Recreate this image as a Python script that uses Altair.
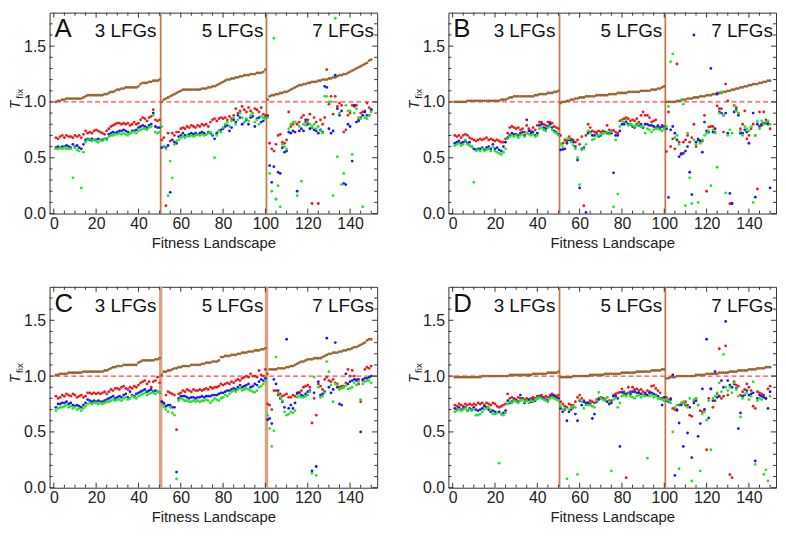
import altair as alt
import pandas as pd

X_LABELS = [0, 20, 40, 60, 80, 100, 120, 140]
X_MINOR = [v for v in range(0, 155, 5) if v % 20 != 0]
Y_LABELS = [0.0, 0.5, 1.0, 1.5]
Y_MINOR = [0.1, 0.2, 0.3, 0.4, 0.6, 0.7, 0.8, 0.9, 1.1, 1.2, 1.3, 1.4, 1.6, 1.7]
SEPARATORS = [50.5, 100.5]
GROUP_LABELS = ["3 LFGs", "5 LFGs", "7 LFGs"]
GROUP_LABEL_X = [48.5, 99.0, 151.3]
SERIES = ["brown", "red", "blue", "green"]
SERIES_COLORS = ["#996633", "#f01818", "#1c1ce6", "#22e622"]

A_brown = [
    1.00, 1.01, 1.01, 1.02, 1.02, 1.03, 1.03, 1.03, 1.03, 1.03,
    1.03, 1.03, 1.03, 1.04, 1.05, 1.06, 1.06, 1.06, 1.06, 1.06,
    1.06, 1.06, 1.06, 1.07, 1.07, 1.08, 1.09, 1.09, 1.10, 1.11,
    1.11, 1.12, 1.12, 1.13, 1.13, 1.13, 1.13, 1.13, 1.13, 1.14,
    1.16, 1.17, 1.17, 1.17, 1.18, 1.18, 1.19, 1.19, 1.19, 1.20,
    1.00, 1.02, 1.03, 1.04, 1.05, 1.06, 1.07, 1.08, 1.09, 1.10,
    1.11, 1.11, 1.11, 1.11, 1.11, 1.11, 1.11, 1.11, 1.11, 1.12,
    1.12, 1.12, 1.13, 1.13, 1.14, 1.14, 1.15, 1.16, 1.17, 1.18,
    1.19, 1.20, 1.20, 1.21, 1.21, 1.22, 1.22, 1.23, 1.23, 1.24,
    1.24, 1.24, 1.25, 1.25, 1.25, 1.26, 1.26, 1.26, 1.27, 1.29,
    1.02, 1.05, 1.06, 1.06, 1.07, 1.07, 1.08, 1.08, 1.09, 1.09,
    1.10, 1.11, 1.12, 1.13, 1.14, 1.15, 1.15, 1.16, 1.16, 1.17,
    1.17, 1.18, 1.18, 1.18, 1.19, 1.19, 1.20, 1.20, 1.20, 1.21,
    1.21, 1.22, 1.22, 1.23, 1.24, 1.24, 1.25, 1.25, 1.26, 1.27,
    1.28, 1.29, 1.30, 1.31, 1.32, 1.33, 1.34, 1.35, 1.37, 1.38,
]
A_red = [
    0.68, 0.67, 0.69, 0.70, 0.68, 0.70, 0.69, 0.69, 0.68, 0.70,
    0.69, 0.70, 0.68, 0.71, 0.74, 0.72, 0.73, 0.72, 0.74, 0.75,
    0.74, 0.73, 0.72, 0.71, 0.74, 0.76, 0.78, 0.79, 0.80, 0.81,
    0.81, 0.80, 0.81, 0.80, 0.81, 0.79, 0.80, 0.82, 0.80, 0.81,
    0.84, 0.86, 0.85, 0.83, 0.86, 0.87, 0.93, 0.84, 0.83, 0.84,
    0.66, 0.68, 0.07, 0.72, 0.65, 0.72, 0.70, 0.73, 0.73, 0.76,
    0.77, 0.76, 0.78, 0.77, 0.79, 0.78, 0.77, 0.79, 0.78, 0.80,
    0.79, 0.80, 0.78, 0.82, 0.84, 0.85, 0.83, 0.85, 0.86, 0.85,
    0.86, 0.84, 0.87, 0.85, 0.88, 0.94, 0.90, 0.92, 0.96, 0.93,
    0.91, 0.95, 0.92, 0.90, 0.94, 0.93, 0.91, 0.95, 0.89, 0.88,
    0.88, 0.63, 0.58, 0.56, 0.62, 0.70, 0.71, 0.64, 0.63, 0.66,
    0.91, 0.78, 0.80, 0.82, 0.80, 0.82, 0.86, 0.88, 0.82, 0.84,
    0.89, 0.09, 0.86, 0.82, 0.09, 0.84, 0.80, 0.86, 1.29, 0.98,
    1.05, 0.89, 1.05, 0.96, 0.99, 0.97, 0.73, 0.75, 0.88, 0.90,
    0.97, 0.96, 0.97, 0.84, 0.90, 0.91, 0.92, 0.99, 0.95, 0.93,
]
A_blue = [
    0.59, 0.60, 0.59, 0.60, 0.60, 0.61, 0.60, 0.59, 0.62, 0.60,
    0.61, 0.59, 0.58, 0.62, 0.66, 0.67, 0.66, 0.67, 0.66, 0.66,
    0.67, 0.66, 0.66, 0.67, 0.67, 0.71, 0.72, 0.73, 0.72, 0.73,
    0.74, 0.74, 0.75, 0.74, 0.73, 0.72, 0.74, 0.74, 0.75, 0.77,
    0.78, 0.79, 0.78, 0.77, 0.79, 0.80, 0.90, 0.78, 0.77, 0.77,
    0.59, 0.60, 0.59, 0.61, 0.19, 0.66, 0.64, 0.63, 0.69, 0.70,
    0.72, 0.70, 0.70, 0.71, 0.72, 0.71, 0.72, 0.71, 0.72, 0.73,
    0.72, 0.71, 0.73, 0.72, 0.70, 0.67, 0.72, 0.74, 0.75, 0.76,
    0.78, 0.79, 0.74, 0.77, 0.84, 0.82, 0.88, 0.86, 0.80, 0.82,
    0.84, 0.80, 0.86, 0.87, 0.78, 0.85, 0.86, 0.82, 0.83, 0.86,
    0.87, 0.43, 0.28, 0.42, 0.13, 0.37, 0.36, 0.59, 0.55, 0.56,
    0.73, 0.72, 0.74, 0.73, 0.20, 0.74, 0.76, 0.74, 0.84, 0.80,
    0.76, 0.77, 0.75, 0.74, 0.72, 0.75, 0.73, 1.14, 1.13, 0.76,
    0.72, 0.74, 1.24, 0.94, 0.88, 0.92, 0.27, 0.26, 0.80, 0.78,
    0.47, 0.97, 0.82, 0.83, 0.86, 0.88, 0.91, 0.88, 0.88, 0.93,
]
A_green = [
    0.58, 0.58, 0.59, 0.58, 0.59, 0.58, 0.58, 0.58, 0.32, 0.59,
    0.57, 0.56, 0.23, 0.55, 0.64, 0.66, 0.67, 0.65, 0.66, 0.65,
    0.64, 0.66, 0.65, 0.67, 0.66, 0.69, 0.70, 0.70, 0.71, 0.71,
    0.72, 0.71, 0.72, 0.71, 0.70, 0.72, 0.73, 0.73, 0.72, 0.74,
    0.75, 0.76, 0.76, 0.75, 0.77, 0.78, 0.88, 0.73, 0.72, 0.73,
    0.78, 0.60, 0.58, 0.16, 0.47, 0.32, 0.62, 0.65, 0.66, 0.68,
    0.69, 0.68, 0.70, 0.69, 0.70, 0.69, 0.70, 0.71, 0.70, 0.71,
    0.70, 0.71, 0.72, 0.73, 0.71, 0.50, 0.70, 0.74, 0.73, 0.77,
    0.80, 0.82, 0.78, 0.83, 0.86, 0.80, 0.84, 0.90, 0.86, 0.82,
    0.85, 0.83, 0.88, 0.90, 0.82, 0.84, 0.80, 0.87, 0.86, 0.85,
    0.86, 0.36, 0.20, 1.57, 0.13, 0.25, 0.06, 0.62, 0.60, 0.58,
    0.76, 0.80, 0.82, 0.82, 0.16, 0.78, 0.29, 0.80, 0.79, 0.82,
    0.80, 0.78, 0.80, 0.76, 0.78, 0.74, 0.72, 1.05, 1.05, 1.00,
    1.00, 0.16, 1.75, 0.51, 0.90, 0.26, 0.36, 0.97, 0.92, 0.92,
    0.53, 0.90, 0.94, 0.86, 0.85, 0.06, 0.86, 0.85, 0.88, 0.91,
]

B_brown = [
    1.00, 1.00, 1.00, 1.00, 1.00, 1.00, 1.01, 1.01, 1.01, 1.01,
    1.01, 1.01, 1.01, 1.01, 1.01, 1.01, 1.01, 1.01, 1.01, 1.01,
    1.01, 1.01, 1.02, 1.02, 1.02, 1.03, 1.04, 1.04, 1.05, 1.05,
    1.05, 1.05, 1.05, 1.05, 1.05, 1.05, 1.05, 1.05, 1.06, 1.06,
    1.07, 1.07, 1.07, 1.07, 1.08, 1.08, 1.08, 1.09, 1.09, 1.10,
    0.99, 1.00, 1.00, 1.01, 1.01, 1.02, 1.02, 1.03, 1.03, 1.04,
    1.04, 1.04, 1.05, 1.05, 1.05, 1.05, 1.05, 1.06, 1.06, 1.06,
    1.06, 1.06, 1.06, 1.07, 1.07, 1.07, 1.07, 1.08, 1.08, 1.08,
    1.08, 1.08, 1.09, 1.09, 1.09, 1.09, 1.09, 1.09, 1.10, 1.10,
    1.10, 1.10, 1.10, 1.11, 1.11, 1.11, 1.12, 1.12, 1.13, 1.14,
    1.00, 1.00, 1.00, 1.00, 1.00, 1.01, 1.01, 1.01, 1.02, 1.02,
    1.03, 1.03, 1.03, 1.04, 1.04, 1.04, 1.05, 1.05, 1.05, 1.06,
    1.06, 1.06, 1.07, 1.07, 1.08, 1.08, 1.08, 1.09, 1.09, 1.10,
    1.10, 1.11, 1.11, 1.12, 1.12, 1.13, 1.13, 1.14, 1.14, 1.15,
    1.15, 1.16, 1.16, 1.16, 1.17, 1.17, 1.18, 1.18, 1.19, 1.19,
]
B_red = [
    0.70, 0.69, 0.70, 0.68, 0.70, 0.71, 0.70, 0.68, 0.67, 0.66,
    0.65, 0.66, 0.67, 0.66, 0.67, 0.68, 0.66, 0.67, 0.66, 0.65,
    0.66, 0.65, 0.64, 0.64, 0.67, 0.72, 0.77, 0.78, 0.77, 0.76,
    0.77, 0.75, 0.76, 0.73, 0.79, 0.76, 0.74, 0.77, 0.75, 0.79,
    0.82, 0.82, 0.80, 0.79, 0.82, 0.82, 0.81, 0.78, 0.77, 0.76,
    0.70, 0.63, 0.66, 0.65, 0.69, 0.67, 0.66, 0.64, 0.66, 0.62,
    0.69, 0.07, 0.70, 0.80, 0.77, 0.74, 0.73, 0.73, 0.74, 0.73,
    0.74, 0.73, 0.79, 0.75, 0.74, 0.745, 0.73, 0.72, 0.83, 0.84,
    0.85, 0.86, 0.85, 0.83, 0.84, 0.83, 0.85, 0.82, 0.88, 0.91,
    0.88, 0.88, 0.86, 0.82, 0.83, 0.84, 0.79, 0.76, 0.79, 0.78,
    0.555, 0.91, 0.60, 0.67, 0.58, 1.34, 0.64, 0.54, 0.64, 0.66,
    0.70, 0.64, 0.68, 0.80, 0.60, 0.67, 0.65, 0.65, 0.88, 0.20,
    0.775, 0.78, 0.78, 0.73, 0.965, 0.94, 0.94, 0.73, 1.16, 1.01,
    0.088, 0.088, 0.97, 0.95, 0.90, 0.76, 0.80, 0.92, 0.67, 0.70,
    0.76, 0.80, 0.70, 0.22, 0.91, 0.79, 0.91, 0.84, 0.82, 0.76,
]
B_blue = [
    0.63, 0.64, 0.65, 0.63, 0.64, 0.65, 0.63, 0.64, 0.60, 0.58,
    0.57, 0.58, 0.58, 0.59, 0.57, 0.59, 0.60, 0.58, 0.62, 0.58,
    0.59, 0.57, 0.56, 0.60, 0.64, 0.68, 0.70, 0.72, 0.71, 0.71,
    0.70, 0.72, 0.73, 0.70, 0.84, 0.74, 0.72, 0.73, 0.70, 0.72,
    0.79, 0.80, 0.77, 0.76, 0.78, 0.80, 0.77, 0.74, 0.73, 0.71,
    0.57, 0.575, 0.58, 0.63, 0.66, 0.65, 0.64, 0.60, 0.48, 0.23,
    0.58, 0.59, 0.01, 0.72, 0.73, 0.70, 0.70, 0.71, 0.69, 0.70,
    0.72, 0.73, 0.72, 0.72, 0.72, 0.365, 0.70, 0.70, 0.74, 0.80,
    0.80, 0.82, 0.80, 0.80, 0.78, 0.77, 0.80, 0.79, 0.80, 0.77,
    0.80, 0.80, 0.79, 0.79, 0.78, 0.77, 0.78, 0.77, 0.78, 0.76,
    0.76, 0.145, 0.75, 0.78, 0.72, 0.66, 0.51, 0.53, 0.54, 0.56,
    0.60, 0.37, 0.17, 1.60, 0.64, 0.66, 0.65, 0.55, 0.82, 0.74,
    0.73, 1.30, 0.73, 0.76, 1.07, 0.91, 0.90, 0.88, 0.90, 0.72,
    0.18, 0.09, 0.91, 0.93, 0.88, 0.72, 0.72, 0.75, 0.73, 0.63,
    0.775, 0.90, 0.147, 0.80, 0.78, 0.80, 0.81, 0.81, 0.80, 0.23,
]
B_green = [
    0.61, 0.62, 0.63, 0.61, 0.62, 0.66, 0.62, 0.61, 0.60, 0.28,
    0.56, 0.57, 0.56, 0.58, 0.56, 0.57, 0.58, 0.56, 0.60, 0.56,
    0.55, 0.54, 0.53, 0.55, 0.58, 0.67, 0.69, 0.70, 0.69, 0.70,
    0.68, 0.70, 0.71, 0.69, 0.72, 0.71, 0.70, 0.71, 0.69, 0.70,
    0.76, 0.77, 0.75, 0.74, 0.77, 0.78, 0.75, 0.73, 0.72, 0.70,
    0.62, 0.60, 0.64, 0.67, 0.67, 0.64, 0.61, 0.58, 0.50, 0.26,
    0.57, 0.58, 0.62, 0.74, 0.72, 0.66, 0.67, 0.70, 0.70, 0.71,
    0.72, 0.72, 0.73, 0.71, 0.73, 0.06, 0.66, 0.175, 0.78, 0.83,
    0.82, 0.84, 0.79, 0.80, 0.79, 0.78, 0.79, 0.80, 0.775, 0.78,
    0.72, 0.76, 0.75, 0.73, 0.75, 0.76, 0.76, 0.75, 0.74, 0.76,
    0.78, 0.96, 1.36, 1.43, 0.68, 0.70, 0.62, 1.02, 0.98, 0.07,
    0.72, 0.32, 0.09, 0.66, 0.62, 0.10, 0.63, 0.66, 0.70, 0.72,
    0.74, 0.25, 0.75, 0.72, 0.415, 0.90, 1.09, 0.88, 0.185, 0.70,
    0.75, 0.72, 0.965, 0.92, 0.90, 0.74, 0.70, 0.78, 0.76, 0.74,
    0.775, 0.10, 0.70, 0.825, 0.76, 0.83, 0.80, 0.82, 0.83, 0.80,
]

C_brown = [
    1.01, 1.01, 1.02, 1.02, 1.02, 1.02, 1.03, 1.03, 1.03, 1.03,
    1.03, 1.03, 1.03, 1.04, 1.04, 1.04, 1.04, 1.04, 1.04, 1.04,
    1.04, 1.04, 1.04, 1.05, 1.05, 1.06, 1.07, 1.08, 1.08, 1.09,
    1.09, 1.09, 1.10, 1.10, 1.10, 1.10, 1.10, 1.10, 1.10, 1.12,
    1.13, 1.14, 1.14, 1.14, 1.14, 1.14, 1.14, 1.15, 1.15, 1.16,
    1.01, 1.04, 1.04, 1.05, 1.05, 1.06, 1.07, 1.07, 1.08, 1.08,
    1.09, 1.09, 1.09, 1.09, 1.10, 1.10, 1.10, 1.10, 1.10, 1.11,
    1.11, 1.12, 1.12, 1.12, 1.13, 1.13, 1.13, 1.14, 1.17, 1.17,
    1.18, 1.18, 1.18, 1.19, 1.19, 1.19, 1.20, 1.20, 1.21, 1.21,
    1.21, 1.22, 1.22, 1.22, 1.23, 1.23, 1.23, 1.24, 1.24, 1.25,
    1.02, 1.06, 1.06, 1.06, 1.06, 1.07, 1.07, 1.07, 1.07, 1.08,
    1.08, 1.09, 1.09, 1.10, 1.11, 1.12, 1.13, 1.13, 1.14, 1.15,
    1.15, 1.15, 1.16, 1.16, 1.16, 1.16, 1.17, 1.18, 1.19, 1.20,
    1.20, 1.21, 1.21, 1.21, 1.22, 1.22, 1.23, 1.23, 1.24, 1.24,
    1.25, 1.26, 1.26, 1.27, 1.28, 1.29, 1.30, 1.32, 1.33, 1.33,
]
C_red = [
    0.82, 0.80, 0.81, 0.83, 0.82, 0.84, 0.83, 0.82, 0.84, 0.83,
    0.81, 0.82, 0.83, 0.81, 0.82, 0.85, 0.85, 0.84, 0.85, 0.84,
    0.85, 0.84, 0.85, 0.86, 0.84, 0.86, 0.88, 0.87, 0.89, 0.89,
    0.88, 0.90, 0.91, 0.89, 0.88, 0.90, 0.89, 0.91, 0.90, 0.92,
    0.94, 0.95, 0.96, 0.93, 0.95, 0.90, 0.95, 0.96, 0.99, 0.94,
    0.77, 0.75, 0.83, 0.86, 0.85, 0.84, 0.83, 0.52, 0.84, 0.85,
    0.87, 0.86, 0.88, 0.87, 0.86, 0.88, 0.87, 0.87, 0.88, 0.87,
    0.88, 0.89, 0.88, 0.90, 0.89, 0.90, 0.90, 0.91, 0.93, 0.92,
    0.93, 0.94, 0.93, 0.95, 0.94, 0.96, 0.97, 0.96, 0.98, 0.99,
    1.00, 0.99, 1.02, 1.00, 1.00, 0.99, 1.05, 1.01, 1.00, 1.06,
    0.75, 0.74, 0.70, 0.87, 0.87, 0.83, 0.84, 0.82, 0.83, 0.84,
    0.81, 0.81, 0.83, 0.82, 0.84, 0.855, 0.87, 0.90, 0.91, 0.92,
    0.90, 0.58, 0.80, 0.65, 0.93, 0.91, 0.88, 0.97, 0.99, 0.96,
    0.95, 0.97, 0.94, 0.93, 0.90, 0.91, 0.91, 0.94, 1.06, 1.00,
    1.05, 1.00, 0.97, 0.93, 0.77, 0.96, 1.06, 1.08, 1.07, 1.09,
]
C_blue = [
    0.72, 0.75, 0.75, 0.76, 0.76, 0.77, 0.75, 0.76, 0.74, 0.73,
    0.74, 0.73, 0.72, 0.74, 0.76, 0.79, 0.78, 0.77, 0.78, 0.77,
    0.78, 0.77, 0.77, 0.78, 0.79, 0.80, 0.81, 0.82, 0.80, 0.81,
    0.82, 0.81, 0.83, 0.84, 0.81, 0.86, 0.83, 0.82, 0.84, 0.85,
    0.86, 0.87, 0.88, 0.86, 0.87, 0.88, 0.86, 0.87, 0.86, 0.85,
    0.77, 0.76, 0.73, 0.74, 0.74, 0.72, 0.72, 0.14, 0.80, 0.82,
    0.82, 0.82, 0.81, 0.80, 0.81, 0.81, 0.80, 0.81, 0.81, 0.82,
    0.81, 0.82, 0.82, 0.82, 0.83, 0.83, 0.83, 0.84, 0.85, 0.85,
    0.86, 0.87, 0.87, 0.88, 0.89, 0.88, 0.90, 0.92, 0.90, 0.91,
    0.92, 0.93, 0.90, 0.91, 0.93, 0.92, 0.95, 0.97, 0.96, 0.98,
    0.61, 0.62, 0.575, 0.97, 0.93, 0.87, 0.80, 0.77, 0.72, 1.33,
    0.71, 0.74, 0.71, 0.76, 0.85, 0.85, 0.83, 0.82, 0.84, 0.86,
    0.87, 0.15, 0.85, 0.19, 0.95, 0.83, 0.84, 0.86, 1.34, 0.90,
    0.85, 0.88, 1.30, 0.90, 0.75, 0.74, 0.90, 1.02, 0.93, 0.95,
    0.96, 0.97, 0.96, 0.97, 0.50, 0.97, 0.98, 0.98, 0.99, 1.00,
]
C_green = [
    0.69, 0.71, 0.72, 0.72, 0.73, 0.74, 0.72, 0.73, 0.71, 0.72,
    0.70, 0.71, 0.69, 0.71, 0.73, 0.75, 0.76, 0.75, 0.76, 0.76,
    0.75, 0.76, 0.75, 0.76, 0.77, 0.77, 0.78, 0.79, 0.78, 0.79,
    0.79, 0.78, 0.80, 0.81, 0.79, 0.80, 0.82, 0.81, 0.80, 0.82,
    0.83, 0.84, 0.85, 0.83, 0.84, 0.85, 0.85, 0.84, 0.86, 0.85,
    0.74, 0.72, 0.70, 0.68, 0.72, 0.67, 0.65, 0.08, 0.78, 0.80,
    0.79, 0.78, 0.78, 0.77, 0.77, 0.78, 0.77, 0.78, 0.77, 0.78,
    0.78, 0.79, 0.78, 0.76, 0.78, 0.80, 0.79, 0.78, 0.80, 0.81,
    0.83, 0.82, 0.84, 0.86, 0.87, 0.86, 0.88, 0.89, 0.87, 0.88,
    0.89, 0.88, 0.87, 0.86, 0.855, 0.87, 0.90, 0.91, 0.93, 0.95,
    0.65, 0.53, 0.37, 0.51, 1.17, 0.85, 0.81, 0.78, 0.68, 0.65,
    0.66, 0.68, 0.67, 0.69, 0.81, 0.82, 0.81, 0.81, 0.82, 0.83,
    0.86, 0.13, 0.99, 0.11, 0.90, 0.81, 0.82, 0.85, 1.13, 1.04,
    0.92, 0.77, 0.93, 0.92, 0.88, 0.89, 0.90, 0.915, 0.885, 0.89,
    0.90, 0.94, 0.92, 0.95, 0.79, 0.93, 0.95, 0.96, 0.96, 0.94,
]

D_brown = [
    0.99, 0.99, 0.99, 0.99, 0.99, 0.99, 0.99, 0.99, 0.99, 0.99,
    0.99, 0.99, 0.99, 1.00, 1.00, 1.00, 1.00, 1.00, 1.00, 1.00,
    1.00, 1.00, 1.00, 1.00, 1.00, 1.00, 1.01, 1.01, 1.01, 1.01,
    1.01, 1.01, 1.01, 1.01, 1.01, 1.01, 1.01, 1.02, 1.02, 1.02,
    1.02, 1.02, 1.02, 1.02, 1.03, 1.03, 1.03, 1.03, 1.03, 1.04,
    0.99, 0.99, 0.99, 0.99, 0.99, 0.99, 1.00, 1.00, 1.00, 1.00,
    1.00, 1.00, 1.00, 1.00, 1.01, 1.01, 1.01, 1.01, 1.01, 1.01,
    1.01, 1.02, 1.02, 1.02, 1.02, 1.02, 1.02, 1.02, 1.02, 1.03,
    1.03, 1.03, 1.03, 1.03, 1.03, 1.03, 1.04, 1.04, 1.04, 1.04,
    1.04, 1.04, 1.04, 1.05, 1.05, 1.05, 1.05, 1.05, 1.06, 1.06,
    0.98, 0.98, 0.99, 0.99, 0.99, 1.00, 1.00, 1.00, 1.00, 1.00,
    1.00, 1.00, 1.00, 1.00, 1.01, 1.01, 1.01, 1.01, 1.01, 1.02,
    1.02, 1.02, 1.02, 1.02, 1.02, 1.03, 1.03, 1.03, 1.03, 1.03,
    1.04, 1.04, 1.04, 1.04, 1.05, 1.05, 1.05, 1.05, 1.05, 1.06,
    1.06, 1.06, 1.06, 1.07, 1.07, 1.07, 1.07, 1.08, 1.08, 1.08,
]
D_red = [
    0.74, 0.73, 0.75, 0.74, 0.73, 0.75, 0.74, 0.75, 0.74, 0.75,
    0.74, 0.76, 0.75, 0.76, 0.74, 0.76, 0.75, 0.74, 0.76, 0.75,
    0.73, 0.72, 0.73, 0.74, 0.75, 0.84, 0.80, 0.81, 0.80, 0.79,
    0.81, 0.80, 0.80, 0.79, 0.80, 0.79, 0.80, 0.81, 0.80, 0.82,
    0.82, 0.83, 0.81, 0.82, 0.81, 0.83, 0.84, 0.83, 0.82, 0.83,
    0.77, 0.75, 0.73, 0.72, 0.75, 0.74, 0.74, 0.77, 0.81, 0.83,
    0.80, 0.78, 0.75, 0.76, 0.78, 0.77, 0.76, 0.79, 0.80, 0.81,
    0.80, 0.79, 0.81, 0.78, 0.78, 0.83, 0.84, 0.85, 0.855, 0.885,
    0.86, 0.09, 0.90, 0.86, 0.90, 0.88, 0.885, 0.87, 0.88, 0.86,
    0.85, 0.87, 0.86, 0.91, 0.915, 0.89, 0.87, 0.85, 0.80, 0.81,
    0.81, 0.79, 0.80, 0.71, 0.70, 0.69, 0.74, 0.75, 0.76, 0.77,
    0.74, 0.65, 0.64, 0.78, 0.80, 0.74, 0.69, 0.68, 0.70, 0.34,
    0.80, 0.885, 0.72, 0.78, 0.84, 1.245, 0.80, 0.82, 1.27, 0.83,
    0.118, 0.09, 0.95, 0.92, 0.91, 0.83, 0.86, 0.88, 0.93, 0.90,
    0.87, 0.73, 0.71, 0.86, 0.85, 0.84, 0.83, 0.80, 0.885, 0.91,
]
D_blue = [
    0.71, 0.70, 0.72, 0.70, 0.71, 0.72, 0.69, 0.71, 0.70, 0.72,
    0.70, 0.69, 0.70, 0.71, 0.73, 0.72, 0.70, 0.68, 0.69, 0.68,
    0.67, 0.68, 0.66, 0.67, 0.69, 0.78, 0.76, 0.77, 0.79, 0.78,
    0.77, 0.83, 0.80, 0.76, 0.78, 0.79, 0.77, 0.79, 0.78, 0.80,
    0.82, 0.81, 0.80, 0.79, 0.78, 0.81, 0.83, 0.82, 0.81, 0.80,
    0.71, 0.68, 0.70, 0.60, 0.68, 0.70, 0.72, 0.66, 0.60, 0.78,
    0.74, 0.77, 0.76, 0.76, 0.75, 0.62, 0.66, 0.77, 0.79, 0.80,
    0.80, 0.78, 0.77, 0.75, 0.76, 0.82, 0.82, 0.80, 0.37, 0.855,
    0.84, 0.84, 0.85, 0.84, 0.86, 0.86, 0.85, 0.85, 0.84, 0.83,
    0.84, 0.83, 0.85, 0.85, 0.84, 0.83, 0.82, 0.80, 0.74, 0.81,
    0.78, 0.77, 0.79, 1.01, 0.11, 0.70, 0.58, 0.74, 0.37, 0.74,
    0.49, 0.72, 0.27, 0.76, 0.78, 0.46, 0.575, 0.885, 0.70, 1.33,
    0.625, 0.885, 0.78, 1.04, 0.81, 0.82, 0.96, 0.90, 1.49, 0.96,
    0.92, 0.90, 0.93, 0.89, 0.53, 0.67, 0.82, 0.83, 0.87, 0.83,
    0.84, 0.85, 0.24, 0.80, 0.83, 0.82, 0.81, 0.80, 0.71, 0.86,
]
D_green = [
    0.68, 0.69, 0.70, 0.69, 0.70, 0.71, 0.69, 0.70, 0.69, 0.70,
    0.65, 0.65, 0.66, 0.68, 0.70, 0.71, 0.72, 0.70, 0.66, 0.66,
    0.67, 0.22, 0.66, 0.65, 0.67, 0.75, 0.77, 0.76, 0.78, 0.77,
    0.76, 0.78, 0.79, 0.77, 0.78, 0.76, 0.78, 0.77, 0.79, 0.80,
    0.81, 0.80, 0.79, 0.78, 0.77, 0.80, 0.81, 0.80, 0.79, 0.78,
    0.73, 0.70, 0.71, 0.08, 0.70, 0.72, 0.73, 0.72, 0.12, 0.79,
    0.77, 0.71, 0.74, 0.74, 0.74, 0.73, 0.72, 0.78, 0.855, 0.80,
    0.79, 0.78, 0.81, 0.77, 0.15, 0.79, 0.80, 0.72, 0.76, 0.82,
    0.83, 0.82, 0.84, 0.82, 0.81, 0.80, 0.82, 0.83, 0.81, 0.83,
    0.82, 0.265, 0.82, 0.83, 0.81, 0.82, 0.80, 0.80, 0.79, 0.78,
    0.79, 0.78, 0.76, 0.50, 0.72, 0.74, 0.17, 0.76, 0.77, 0.75,
    0.72, 0.80, 0.06, 0.79, 0.80, 0.74, 0.15, 0.66, 0.68, 0.605,
    0.78, 0.34, 0.80, 0.82, 0.85, 0.94, 0.86, 1.195, 0.90, 0.87,
    0.90, 0.85, 0.94, 0.88, 0.82, 0.634, 0.80, 0.84, 0.85, 0.79,
    0.82, 0.95, 0.21, 0.78, 0.80, 0.79, 0.12, 0.16, 0.06, 0.82,
]

W, H = 331, 203
FONT = "Liberation Sans"
XS = alt.Scale(domain=[-2, 152.8], nice=False, zero=False)
YS = alt.Scale(domain=[0, 1.8], nice=False, zero=False)
AX = alt.Axis(values=X_LABELS, title="Fitness Landscape", labelPadding=2,
              titlePadding=4, labelFlush=False)
AY = alt.Axis(values=Y_LABELS, format=".1f", title=None, labelPadding=4)


def xenc(field="x"):
    return alt.X(f"{field}:Q", scale=XS, axis=AX)


def yenc(field="y"):
    return alt.Y(f"{field}:Q", scale=YS, axis=AY)


def panel(letter, series, sep_color, sep_width):
    rows = []
    for name, vals in zip(SERIES, series):
        for i, v in enumerate(vals):
            rows.append({"x": i + 1, "y": v, "s": name})
    df = pd.DataFrame(rows)

    pts = alt.Chart(df).mark_circle(size=8, opacity=1).encode(
        x=xenc(), y=yenc(),
        color=alt.Color("s:N", scale=alt.Scale(domain=SERIES, range=SERIES_COLORS), legend=None),
    )
    dash = alt.Chart(pd.DataFrame({"y": [1.0]})).mark_rule(
        color="#ff4a4a", strokeDash=[5, 3], strokeWidth=1.2
    ).encode(y=yenc())
    seps = alt.Chart(pd.DataFrame({"x": SEPARATORS})).mark_rule(
        color=sep_color, strokeWidth=sep_width
    ).encode(x=xenc())

    major_x = pd.DataFrame({"x": X_LABELS})
    minor_x = pd.DataFrame({"x": X_MINOR})
    major_y = pd.DataFrame({"y": Y_LABELS})
    minor_y = pd.DataFrame({"y": Y_MINOR})
    tc = "#333333"
    ticks = [
        alt.Chart(major_x).mark_rule(color=tc).encode(x=xenc(), y=alt.value(H), y2=alt.value(H - 5)),
        alt.Chart(minor_x).mark_rule(color=tc).encode(x=xenc(), y=alt.value(H), y2=alt.value(H - 3)),
        alt.Chart(major_x).mark_rule(color=tc).encode(x=xenc(), y=alt.value(0), y2=alt.value(5)),
        alt.Chart(minor_x).mark_rule(color=tc).encode(x=xenc(), y=alt.value(0), y2=alt.value(3)),
        alt.Chart(major_y).mark_rule(color=tc).encode(y=yenc(), x=alt.value(0), x2=alt.value(5)),
        alt.Chart(minor_y).mark_rule(color=tc).encode(y=yenc(), x=alt.value(0), x2=alt.value(3)),
        alt.Chart(major_y).mark_rule(color=tc).encode(y=yenc(), x=alt.value(W), x2=alt.value(W - 5)),
        alt.Chart(minor_y).mark_rule(color=tc).encode(y=yenc(), x=alt.value(W), x2=alt.value(W - 3)),
    ]

    groups = alt.Chart(pd.DataFrame({"x": GROUP_LABEL_X, "t": GROUP_LABELS})).mark_text(
        align="right", baseline="alphabetic", fontSize=19, font=FONT, color="#111"
    ).encode(x=xenc(), y=alt.value(25), text="t:N")
    let = alt.Chart(pd.DataFrame({"t": [letter]})).mark_text(
        align="left", baseline="alphabetic", fontSize=26, font=FONT, color="#111"
    ).encode(x=alt.value(5), y=alt.value(25), text="t:N")
    tlab = alt.Chart(pd.DataFrame({"t": ["T"]})).mark_text(
        angle=270, align="center", baseline="middle", fontSize=14, fontStyle="italic",
        font=FONT, color="#222"
    ).encode(x=alt.value(-34), y=alt.value(93), text="t:N")
    flab = alt.Chart(pd.DataFrame({"t": ["fix"]})).mark_text(
        angle=270, align="center", baseline="middle", fontSize=10, font=FONT, color="#222"
    ).encode(x=alt.value(-29.5), y=alt.value(82), text="t:N")

    return alt.layer(seps, dash, *ticks, pts, groups, let, tlab, flab).properties(width=W, height=H)


pA = panel("A", [A_brown, A_red, A_blue, A_green], "#c8784c", 1.8)
pB = panel("B", [B_brown, B_red, B_blue, B_green], "#c8784c", 1.8)
pC = panel("C", [C_brown, C_red, C_blue, C_green], "#dba383", 3.5)
pD = panel("D", [D_brown, D_red, D_blue, D_green], "#c8784c", 1.8)

chart = alt.concat(
    pA, pB, pC, pD, columns=2, spacing={"row": 74, "column": 72}, bounds="flush"
).properties(padding=0).configure_view(
    stroke="#333333", strokeWidth=1
).configure_axis(
    grid=False, ticks=False, domain=False,
    labelFont=FONT, labelFontSize=16, labelColor="#222",
    titleFont=FONT, titleFontSize=15, titleFontWeight="normal", titleColor="#222",
)

chart.save("out.html", embed_options={"renderer": "svg", "actions": False})
